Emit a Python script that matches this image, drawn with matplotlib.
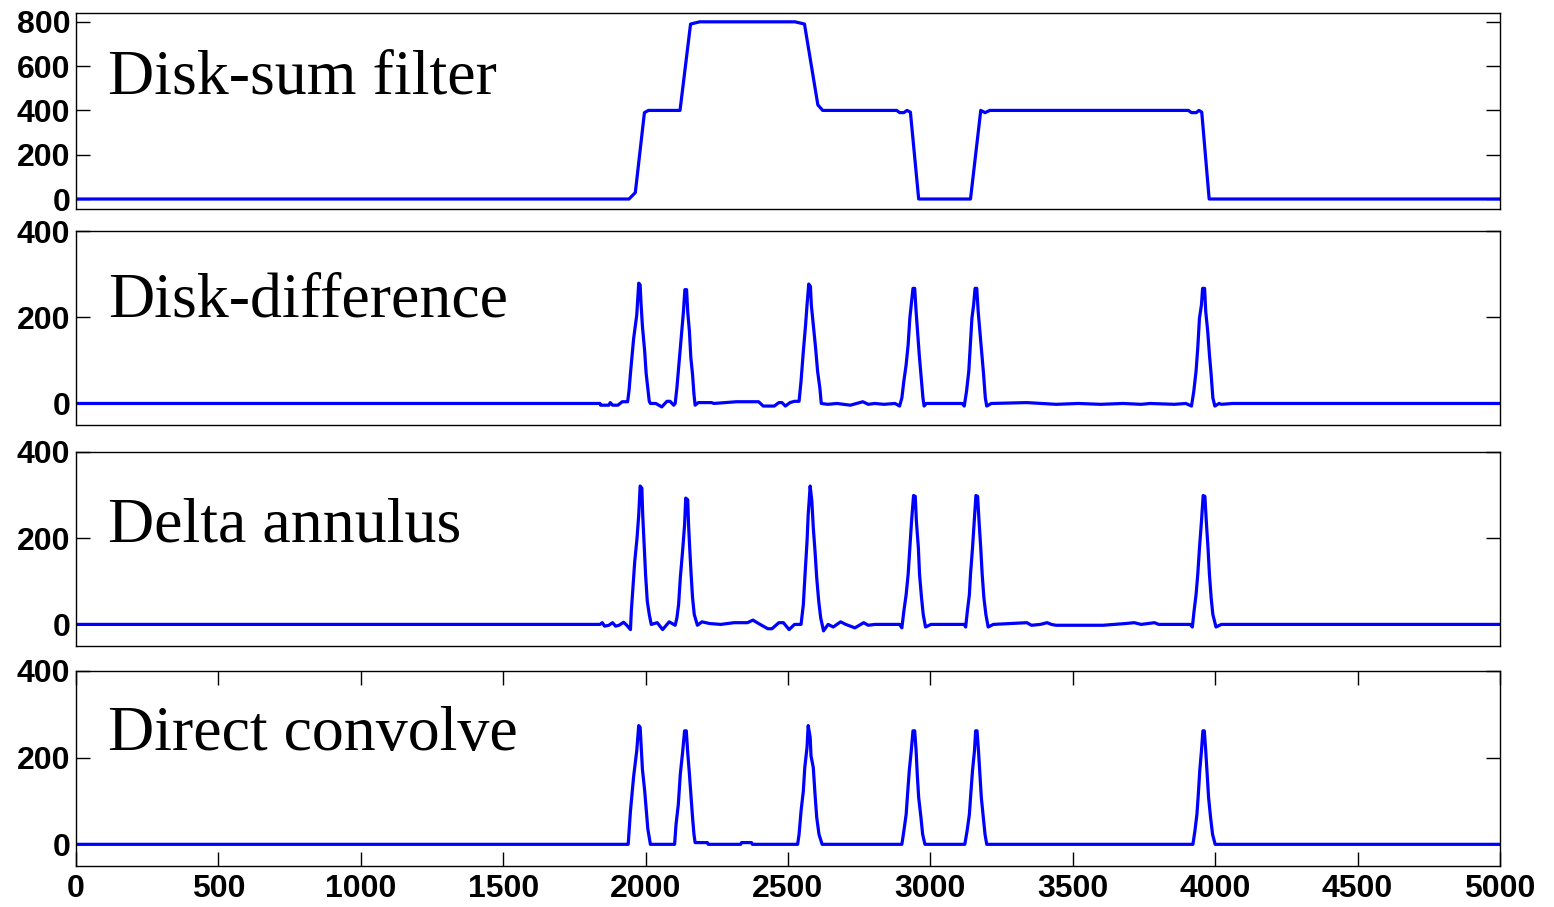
import numpy as np
import matplotlib
matplotlib.use("Agg")
import matplotlib.pyplot as plt

# ---- data: polyline vertices ----
# Disk-sum filter
x_sum = [0, 1942, 1964, 1996, 2010, 2121, 2158, 2190, 2525, 2558, 2605, 2622,
         2882, 2892, 2907, 2918, 2930, 2959, 3141, 3177, 3192, 3209, 3906,
         3917, 3934, 3943, 3953, 3979, 5000]
y_sum = [0, 0, 29, 390, 400, 400, 790, 800, 800, 790, 425, 400,
         400, 390, 390, 400, 392, 0, 0, 400, 390, 400, 400,
         390, 390, 400, 392, 0, 0]

# Disk-difference
x_diff = [0, 1840, 1842, 1871, 1876, 1884, 1903, 1918, 1937,
          1942, 1947, 1958, 1969, 1973, 1976, 1981, 1984, 1989, 1997, 2002, 2008, 2013, 2017,
          2036, 2057, 2075, 2086, 2099, 2104,
          2110, 2119, 2127, 2133, 2138, 2144, 2148, 2154, 2159, 2165, 2170, 2174,
          2185, 2232, 2240, 2319, 2397, 2413, 2452, 2468, 2479, 2491, 2507, 2523, 2539,
          2546, 2554, 2562, 2567, 2573, 2579, 2582, 2589, 2597, 2604, 2612, 2617,
          2640, 2672, 2719, 2763, 2782, 2805, 2837, 2876, 2892,
          2900, 2907, 2915, 2922, 2928, 2933, 2939, 2945, 2950, 2955, 2961, 2967, 2974, 2978,
          2986, 3112, 3119,
          3127, 3135, 3140, 3146, 3152, 3157, 3163, 3168, 3174, 3181, 3187, 3193, 3198,
          3214, 3339, 3442, 3520, 3598, 3677, 3740, 3771, 3857, 3897, 3917,
          3925, 3933, 3939, 3945, 3952, 3956, 3963, 3967, 3974, 3980, 3986, 3992, 3999,
          4014, 4022, 4061, 5000]
y_diff = [0, 0, -4, -4, 2, -4, -4, 4, 4,
          30, 70, 150, 205, 248, 279, 275, 233, 179, 120, 70, 35, 5, 0,
          0, -8, 5, 5, -4, 0,
          36, 106, 167, 213, 264, 264, 213, 167, 106, 67, 21, -4,
          2, 2, 0, 4, 4, -6, -6, 2, 2, -6, 2, 5, 5,
          52, 121, 183, 229, 277, 271, 229, 183, 129, 75, 36, 0,
          -2, 0, -4, 4, -2, 0, -2, 0, -6,
          13, 52, 90, 136, 198, 229, 267, 267, 213, 167, 113, 67, 13, -6,
          0, 0, -6,
          28, 75, 129, 198, 229, 267, 267, 213, 167, 113, 67, 13, -6,
          0, 2, -2, 0, -2, 0, -2, 0, -2, 0, -6,
          28, 75, 129, 198, 229, 267, 267, 213, 167, 113, 67, 13, -6,
          0, -2, 0, 0]

# Delta annulus
x_delta = [0, 1840, 1848, 1856, 1871, 1884, 1895, 1907, 1923, 1934, 1947,
           1950, 1954, 1962, 1970, 1976, 1981, 1987, 1990, 1995, 2000, 2006, 2013, 2020,
           2041, 2060, 2083, 2104,
           2110, 2116, 2122, 2130, 2137, 2141, 2148, 2151, 2155, 2160, 2165, 2171, 2182,
           2198, 2225, 2264, 2311, 2358, 2377, 2397, 2429, 2444, 2468, 2484, 2504, 2523, 2546,
           2554, 2560, 2567, 2571, 2578, 2584, 2589, 2595, 2601, 2608, 2615, 2625,
           2641, 2659, 2685, 2703, 2735, 2766, 2782, 2805, 2892, 2900,
           2907, 2915, 2922, 2928, 2934, 2941, 2947, 2951, 2958, 2962, 2969, 2975, 2983,
           3002, 3119, 3124,
           3130, 3137, 3141, 3148, 3154, 3160, 3166, 3171, 3177, 3182, 3188, 3195, 3203,
           3221, 3339, 3355, 3386, 3410, 3425, 3441, 3520, 3606, 3685, 3716, 3740, 3787,
           3802, 3912, 3920,
           3926, 3933, 3939, 3945, 3952, 3958, 3964, 3969, 3975, 3980, 3986, 3992, 4003,
           4022, 5000]
y_delta = [0, 0, 4, -4, -2, 4, -4, -2, 5, -2, -12,
           31, 69, 146, 200, 254, 321, 316, 254, 185, 116, 54, 23, 0,
           4, -12, 6, -2,
           15, 46, 108, 170, 231, 293, 289, 231, 177, 116, 62, 23, -2,
           6, 2, 0, 4, 4, 10, 2, -10, -10, 4, 4, -12, 0, 0,
           46, 116, 193, 254, 321, 285, 224, 170, 108, 54, 15, -15,
           0, -6, 6, 0, -8, 4, -2, 0, 0, -8,
           31, 69, 116, 177, 239, 299, 297, 239, 177, 116, 62, 23, -6,
           0, 0, -6,
           31, 69, 116, 177, 239, 299, 297, 239, 177, 116, 62, 23, -6,
           0, 4, -2, 0, 4, 0, -2, -2, -2, 2, 4, 0, 4,
           0, 0, -6,
           31, 69, 116, 177, 239, 299, 297, 239, 177, 116, 62, 23, -6,
           0, 0]

# Direct convolve
x_conv = [0, 1939, 1947, 1958, 1969, 1976, 1981, 1989, 1997, 2008, 2017,
          2102, 2107, 2115, 2122, 2130, 2137, 2143, 2148, 2154, 2165, 2170, 2174, 2217, 2220,
          2334, 2337, 2372, 2375,
          2534, 2539, 2546, 2554, 2559, 2567, 2571, 2578, 2581, 2589, 2595, 2601, 2609, 2620,
          2900, 2907, 2915, 2920, 2926, 2933, 2939, 2945, 2950, 2954, 2959, 2967, 2973, 2981,
          3121, 3129, 3137, 3142, 3148, 3155, 3159, 3164, 3169, 3174, 3179, 3186, 3192, 3198,
          3922, 3929, 3936, 3941, 3946, 3952, 3957, 3962, 3967, 3972, 3977, 3984, 3991, 4000,
          5000]
y_conv = [0, 0, 77, 156, 216, 274, 270, 173, 123, 35, 0,
          0, 46, 92, 162, 212, 262, 262, 212, 162, 62, 23, 4, 4, 0,
          0, 4, 4, 0,
          0, 23, 77, 123, 177, 224, 274, 247, 204, 177, 116, 62, 23, 0,
          0, 31, 69, 116, 170, 216, 262, 262, 216, 162, 108, 62, 23, 0,
          0, 31, 69, 116, 170, 216, 262, 262, 216, 162, 108, 62, 23, 0,
          0, 31, 69, 116, 170, 216, 262, 262, 216, 162, 108, 62, 23, 0,
          0]

labels = ['Disk-sum filter', 'Disk-difference', 'Delta annulus', 'Direct convolve']
series = [(x_sum, y_sum), (x_diff, y_diff), (x_delta, y_delta), (x_conv, y_conv)]
yticks = [[0, 200, 400, 600, 800], [0, 200, 400], [0, 200, 400], [0, 200, 400]]
ylims = [(-45, 840), (-50, 400), (-50, 400), (-50, 400)]
xticks = [0, 500, 1000, 1500, 2000, 2500, 3000, 3500, 4000, 4500, 5000]

fig = plt.figure(figsize=(15.54, 9.07), dpi=100)

# panel boxes in figure fraction (left, bottom, width, height)
boxes = [(0.0489, 0.7696, 0.9163, 0.2161),
         (0.0489, 0.5314, 0.9163, 0.2139),
         (0.0489, 0.2878, 0.9163, 0.2139),
         (0.0489, 0.0452, 0.9163, 0.2150)]
label_y = [0.665, 0.635, 0.615, 0.67]

for i in range(4):
    ax = fig.add_axes(boxes[i])
    xs, ys = series[i]
    ax.plot(xs, ys, color='#0000FF', linewidth=2.3)
    ax.set_xlim(0, 5000)
    ax.set_ylim(*ylims[i])
    ax.set_yticks(yticks[i])
    ax.tick_params(axis='y', direction='in', length=10, width=1, left=True, right=True, pad=4)
    if i < 3:
        ax.set_xticks([])
    else:
        ax.set_xticks(xticks)
        ax.tick_params(axis='x', direction='in', length=10, width=1, top=True, bottom=True, pad=6)
    for lab in ax.get_xticklabels() + ax.get_yticklabels():
        lab.set_fontfamily('Liberation Sans')
        lab.set_fontweight('bold')
        lab.set_fontsize(23)
    for sp in ax.spines.values():
        sp.set_linewidth(1.0)
        sp.set_color('black')
    ax.text(0.0225, label_y[i], labels[i], transform=ax.transAxes,
            fontfamily='Liberation Serif', fontsize=46, va='center', ha='left')

plt.savefig('out.png', dpi=100)
